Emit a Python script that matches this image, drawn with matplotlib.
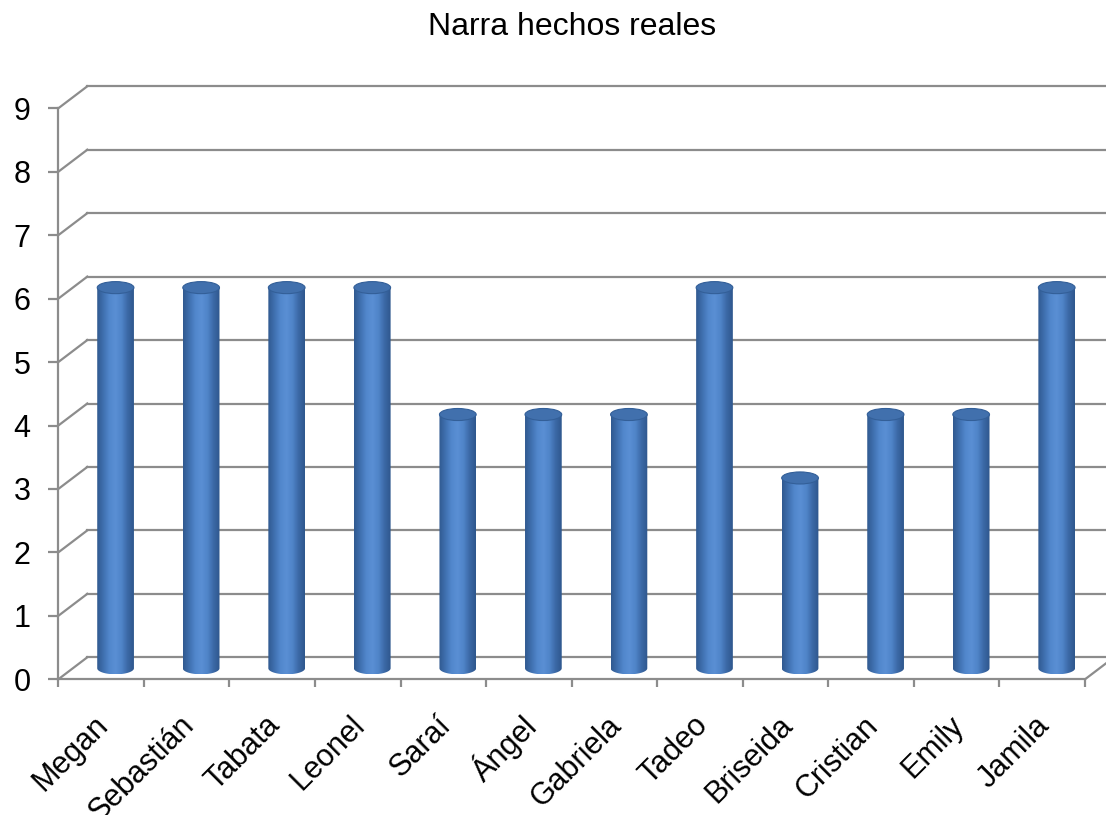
import numpy as np
import matplotlib.pyplot as plt
from matplotlib import transforms
from matplotlib.patches import Ellipse, PathPatch
from matplotlib.path import Path
from matplotlib.colors import LinearSegmentedColormap

plt.rcParams['font.family'] = ['Liberation Sans', 'DejaVu Sans']

# data
names = ["Megan", "Sebastián", "Tabata", "Leonel", "Saraí", "Ángel",
         "Gabriela", "Tadeo", "Briseida", "Cristian", "Emily", "Jamila"]
values = [6, 6, 6, 6, 4, 4, 4, 6, 3, 4, 4, 6]
yticks = list(range(10))
title = "Narra hechos reales"

# 3d look: depth offset of the back wall and cylinder size, in data units
DX, DY = 0.339, 0.347
half_w = 0.2145
ell_h = 0.095
grid_col = "#8c8c8c"

fig = plt.figure(figsize=(11.06, 8.15), dpi=100)
ax = fig.add_axes([0.05271, 0.1665, 0.9283, 0.70061])
n = len(names)

# walls / gridlines
for y in yticks:
    ax.plot([0, DX], [y, y + DY], color=grid_col, lw=1.6, clip_on=False, zorder=1)
    ax.plot([DX, n + DX], [y + DY, y + DY], color=grid_col, lw=1.6, clip_on=False, zorder=1)
ax.plot([n, n + DX], [0, DY], color=grid_col, lw=1.6, clip_on=False, zorder=1)

# cylinders
cmap = LinearSegmentedColormap.from_list(
    "cyl", ["#30598f", "#3f6fae", "#5187cc", "#5a8fd4", "#4f84c8", "#3b68a5", "#2e578d"])
grad = np.linspace(0, 1, 256).reshape(1, -1)
t = np.linspace(np.pi, 2 * np.pi, 60)
for i, v in enumerate(values):
    c = i + 0.5 + DX / 2
    b = DY / 2
    xs = np.concatenate([[c - half_w], c + half_w * np.cos(t), [c + half_w]])
    ys = np.concatenate([[b + v], b + ell_h * np.sin(t), [b + v]])
    body = PathPatch(Path(np.column_stack([xs, ys]), closed=False),
                     facecolor="none", edgecolor="none", zorder=3)
    ax.add_patch(body)
    im = ax.imshow(grad, cmap=cmap, aspect="auto", zorder=3,
                   extent=(c - half_w, c + half_w, b - ell_h, b + v))
    im.set_clip_path(body)
    top = Ellipse((c, b + v), 2 * half_w, 2 * ell_h, facecolor="#4170ad",
                  edgecolor="#335f98", lw=0.8, zorder=4)
    ax.add_patch(top)

ax.set_xlim(0, n)
ax.set_ylim(0, 9)

# axes
for s in ["top", "right"]:
    ax.spines[s].set_visible(False)
for s in ["left", "bottom"]:
    ax.spines[s].set_color(grid_col)
    ax.spines[s].set_linewidth(1.6)
    ax.spines[s].set_zorder(5)
ax.set_yticks(yticks)
ax.set_yticklabels([str(y) for y in yticks], fontsize=22)
ax.tick_params(axis="y", length=7, width=1.6, color=grid_col, pad=13)
ax.set_xticks(np.arange(n + 1))
ax.set_xticklabels([])
ax.tick_params(axis="x", which="major", length=6, width=1.6, color=grid_col)
ax.set_xticks(np.arange(n) + 0.5, minor=True)
ax.set_xticklabels(names, minor=True, fontsize=22, rotation=45,
                   ha="right", va="center", rotation_mode="anchor")
ax.tick_params(axis="x", which="minor", length=0, pad=30)
shift = transforms.ScaledTranslation(0.03, 0, fig.dpi_scale_trans)
for lab in ax.get_xticklabels(minor=True):
    lab.set_transform(lab.get_transform() + shift)

fig.text(572 / 1106, 1 - 35 / 815, title, fontsize=23, ha="center", va="baseline")

fig.savefig("out.png", dpi=100, facecolor="white")
